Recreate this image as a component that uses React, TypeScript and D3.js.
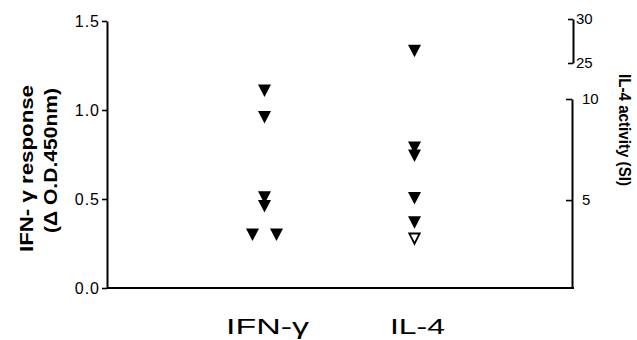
import { useEffect, useRef } from "react";
import * as d3 from "d3";

// categories on the x axis
const categories = ["IFN-γ", "IL-4"];
// IFN-γ response, left axis (Δ O.D.450nm)
const ifnResponse = [1.11, 0.96, 0.51, 0.46, 0.3, 0.3];
// IL-4 activity, right axis (SI), filled and open markers
const il4Activity = [26.4, 7.6, 7.2, 5.1, 3.9];
const il4ActivityOpen = [3.1];
// tick labels
const leftTicks = [0, 0.5, 1.0, 1.5];
const rightTicksLow = [5, 10];
const rightTicksHigh = [25, 30];

// horizontal offsets so equal values sit side by side
function spread(vals: number[], gap: number) {
  return vals.map((v, i) => {
    const same = vals.filter((u) => u === v).length;
    const k = vals.slice(0, i).filter((u) => u === v).length;
    return (k - (same - 1) / 2) * gap;
  });
}

function App() {
  const ref = useRef<SVGSVGElement>(null);

  useEffect(() => {
    const svg = d3.select(ref.current);
    svg.selectAll("*").remove();

    const left = 107, right = 572, bottom = 288, top = 21;
    const font = "'Liberation Sans', Arial, Helvetica, sans-serif";

    const x = d3.scalePoint<string>().domain(categories).range([left, right]).padding(1.05);
    const yL = d3.scaleLinear().domain([0, 1.5]).range([bottom, top]);
    // broken right axis: lower segment up to 10, upper segment 25-30
    const yLow = d3.scaleLinear().domain([0.65, 10]).range([bottom, 99]);
    const yHigh = d3.scaleLinear().domain([25, 30]).range([63, 19]);
    const yR = (v: number) => (v > 10 ? yHigh(v) : yLow(v));

    const styleAxis = (g: any, size: number) => {
      g.attr("font-family", font).attr("font-size", size);
      g.select(".domain").attr("stroke", "#000").attr("stroke-width", 2);
      g.selectAll(".tick line").attr("stroke", "#000").attr("stroke-width", 1.6);
      g.selectAll(".tick text").attr("fill", "#000");
    };

    // left axis
    const gl = svg
      .append("g")
      .attr("transform", `translate(${left},0)`)
      .call(
        d3.axisLeft(yL).tickValues(leftTicks).tickFormat(d3.format(".1f")).tickSize(5).tickSizeOuter(0).tickPadding(2)
      );
    styleAxis(gl, 16);
    gl.selectAll(".tick text").attr("letter-spacing", 1);

    // right axis, lower part
    const gr = svg
      .append("g")
      .attr("transform", `translate(${right},0)`)
      .call(
        d3.axisRight(yLow).tickValues(rightTicksLow).tickFormat(d3.format("d")).tickSizeInner(-6).tickSizeOuter(0).tickPadding(10)
      );
    styleAxis(gr, 15);

    // right axis, upper part
    const gu = svg
      .append("g")
      .attr("transform", `translate(${right + 1},0)`)
      .call(
        d3.axisRight(yHigh).tickValues(rightTicksHigh).tickFormat(d3.format("d")).tickSizeInner(-5).tickSizeOuter(0).tickPadding(3)
      );
    styleAxis(gu, 15);

    // x axis line
    svg
      .append("line")
      .attr("x1", left)
      .attr("x2", right + 2)
      .attr("y1", bottom)
      .attr("y2", bottom)
      .attr("stroke", "#000")
      .attr("stroke-width", 2);

    // category labels
    const labelLen: Record<string, number> = { "IFN-γ": 83, "IL-4": 55 };
    svg
      .selectAll(".cat")
      .data(categories)
      .enter()
      .append("text")
      .attr("class", "cat")
      .attr("x", (d) => (x(d) as number) + 3 - labelLen[d] / 2)
      .attr("y", 334)
      .attr("font-family", font)
      .attr("font-size", 22)
      .attr("textLength", (d) => labelLen[d])
      .attr("lengthAdjust", "spacingAndGlyphs")
      .text((d) => d);

    const tri = "M-6.5,-6L6.5,-6L0,6.5Z";

    // IFN-γ markers
    const ifnOff = spread(ifnResponse, 24);
    svg
      .selectAll(".ifn")
      .data(ifnResponse)
      .enter()
      .append("path")
      .attr("class", "ifn")
      .attr("d", tri)
      .attr("transform", (d, i) => `translate(${(x(categories[0]) as number) + ifnOff[i]},${yL(d)})`)
      .attr("fill", "#000");

    // IL-4 markers
    const il4Off = spread(il4Activity, 24);
    svg
      .selectAll(".il4")
      .data(il4Activity)
      .enter()
      .append("path")
      .attr("class", "il4")
      .attr("d", tri)
      .attr("transform", (d, i) => `translate(${(x(categories[1]) as number) + il4Off[i]},${yR(d)})`)
      .attr("fill", "#000");

    svg
      .selectAll(".il4open")
      .data(il4ActivityOpen)
      .enter()
      .append("path")
      .attr("class", "il4open")
      .attr("d", "M-5.2,-5L5.2,-5L0,5.2Z")
      .attr("transform", (d) => `translate(${x(categories[1]) as number},${yR(d)})`)
      .attr("fill", "#fff")
      .attr("stroke", "#000")
      .attr("stroke-width", 1.8);

    // left axis title, two lines
    svg
      .append("text")
      .attr("transform", "translate(33,168.5) rotate(-90)")
      .attr("text-anchor", "middle")
      .attr("font-family", font)
      .attr("font-weight", "bold")
      .attr("font-size", 19)
      .attr("textLength", 167)
      .attr("lengthAdjust", "spacingAndGlyphs")
      .text("IFN- γ response");
    svg
      .append("text")
      .attr("transform", "translate(57,160.5) rotate(-90)")
      .attr("text-anchor", "middle")
      .attr("font-family", font)
      .attr("font-weight", "bold")
      .attr("font-size", 19)
      .attr("textLength", 145)
      .attr("lengthAdjust", "spacingAndGlyphs")
      .text("(Δ O.D.450nm)");

    // right axis title
    svg
      .append("text")
      .attr("transform", "translate(619,130) rotate(90)")
      .attr("text-anchor", "middle")
      .attr("font-family", font)
      .attr("font-weight", "bold")
      .attr("font-size", 17)
      .attr("textLength", 112)
      .attr("lengthAdjust", "spacingAndGlyphs")
      .text("IL-4 activity (SI)");
  }, []);

  return (
    <svg
      ref={ref}
      width={637}
      height={340}
      style={{ position: "absolute", left: 0, top: 0, background: "#fff" }}
    ></svg>
  );
}

export default App;
